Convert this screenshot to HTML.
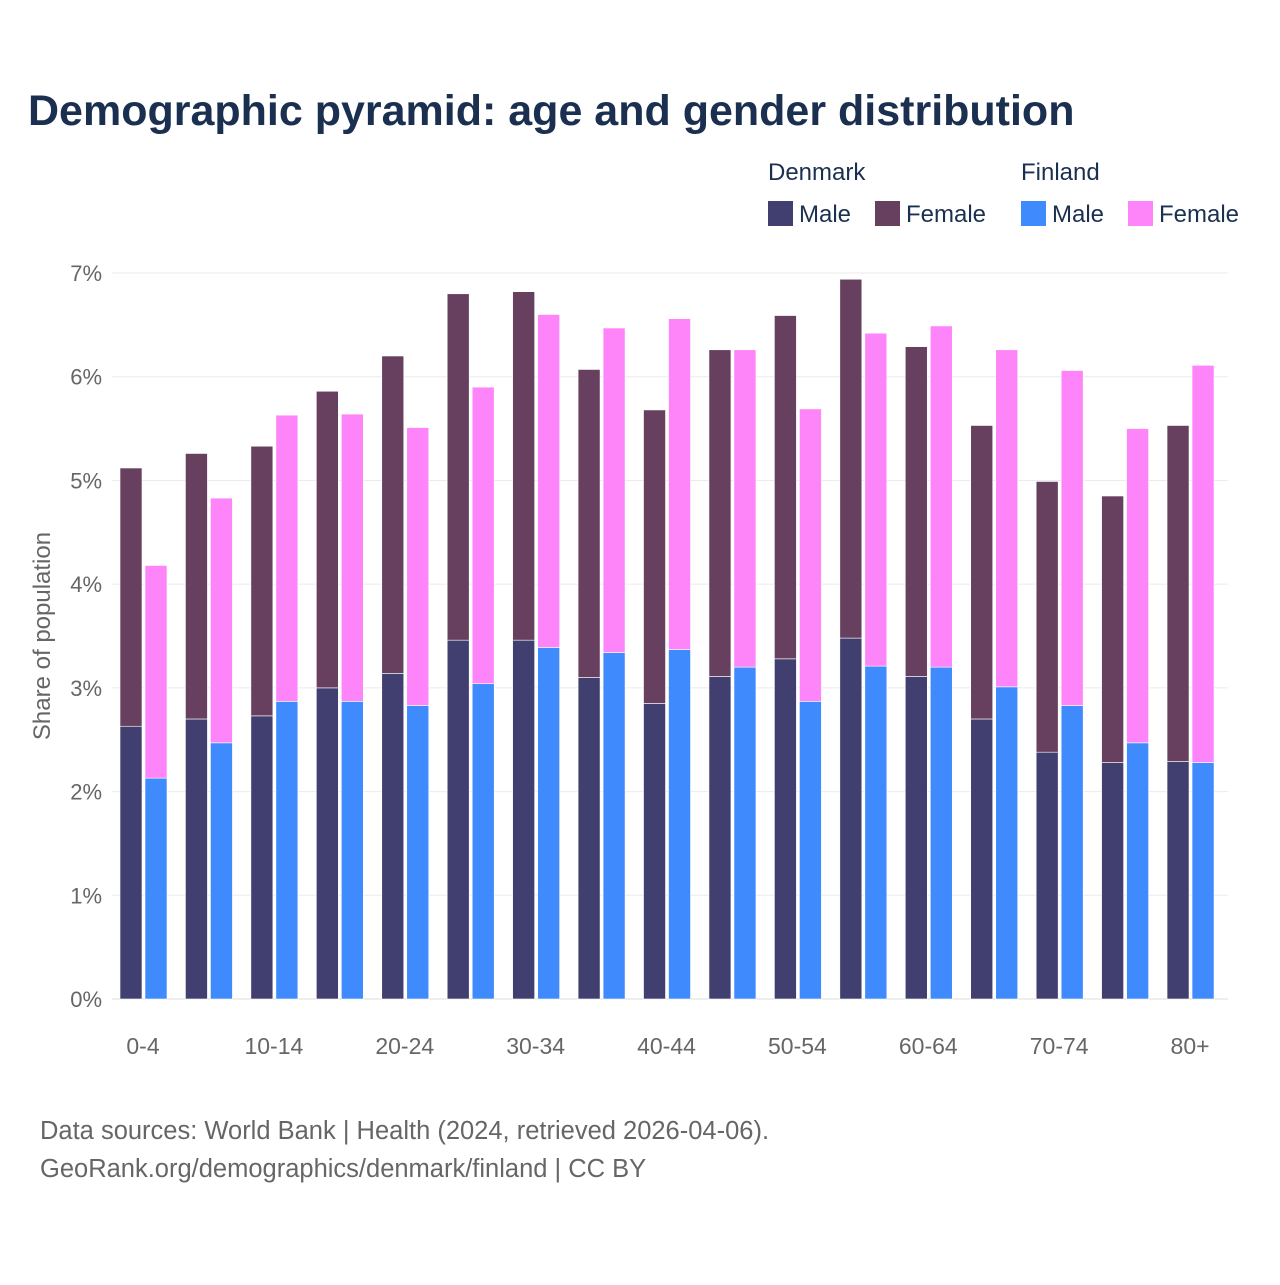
<!DOCTYPE html>
<html><head><meta charset="utf-8"><style>
body{margin:0;background:#fff;font-family:"Liberation Sans",sans-serif}
</style></head><body>
<svg width="1280" height="1280" xmlns="http://www.w3.org/2000/svg" id="svg">
<rect width="1280" height="1280" fill="#fff"/>
<text x="28" y="125" font-size="43" font-weight="bold" fill="#1b3050">Demographic pyramid: age and gender distribution</text>
<g font-size="24" fill="#1b3050">
<text x="768" y="180">Denmark</text>
<text x="1021" y="180">Finland</text>
<g><rect x="768" y="201" width="25" height="25" fill="#413f70"/><text x="799" y="222">Male</text></g>
<g><rect x="875" y="201" width="25" height="25" fill="#67405f"/><text x="906" y="222">Female</text></g>
<g><rect x="1021" y="201" width="25" height="25" fill="#3f8afd"/><text x="1052" y="222">Male</text></g>
<g><rect x="1128" y="201" width="25" height="25" fill="#fe85f9"/><text x="1159" y="222">Female</text></g>
</g>
<text transform="translate(50,636) rotate(-90)" text-anchor="middle" font-size="24" fill="#666">Share of population</text>
<g id="grid"></g><g id="bars"></g><g id="xl"></g>
<text x="40" y="1139" font-size="25.5" fill="#666">Data sources: World Bank | Health (2024, retrieved 2026-04-06).</text>
<text x="40" y="1177" font-size="25.5" fill="#666">GeoRank.org/demographics/denmark/finland | CC BY</text>
</svg>
<script>
const categories=["0-4","5-9","10-14","15-19","20-24","25-29","30-34","35-39","40-44","45-49","50-54","55-59","60-64","65-69","70-74","75-79","80+"];
const dkMale=[2.63,2.70,2.73,3.00,3.14,3.46,3.46,3.10,2.85,3.11,3.28,3.48,3.11,2.70,2.38,2.28,2.29];
const dkFemale=[2.49,2.56,2.60,2.86,3.06,3.34,3.36,2.97,2.83,3.15,3.31,3.46,3.18,2.83,2.61,2.57,3.24];
const fiMale=[2.13,2.47,2.87,2.87,2.83,3.04,3.39,3.34,3.37,3.20,2.87,3.21,3.20,3.01,2.83,2.47,2.28];
const fiFemale=[2.05,2.36,2.76,2.77,2.68,2.86,3.21,3.13,3.19,3.06,2.82,3.21,3.29,3.25,3.23,3.03,3.83];
const yTicks=[0,1,2,3,4,5,6,7];
const NS="http://www.w3.org/2000/svg";
const y=v=>999-v*103.71;
const xc=i=>143+i*65.44;
function mk(t,a,p){const e=document.createElementNS(NS,t);for(const k in a)e.setAttribute(k,a[k]);p.appendChild(e);return e;}
const grid=document.getElementById('grid');
yTicks.forEach(t=>{
 const l=mk('line',{x1:112,x2:1228,y1:y(t),y2:y(t),stroke:t===0?'#ddd':'#ebebeb','stroke-width':1},grid);
 
 
 const tx=mk('text',{x:102,y:y(t)+8,'text-anchor':'end','font-size':22,fill:'#666'},grid);
 tx.textContent=t+'%';
 
 
});
const bars=document.getElementById('bars');
function bar(x,v0,v1,c,name){
 const r=mk('rect',{x:x,y:y(v1),width:22,height:y(v0)-y(v1),fill:c,stroke:'#fff','stroke-width':0.6},bars);
 
 
}
categories.forEach((c,i)=>{
 const cx=xc(i);
 bar(cx-23,0,dkMale[i],'#413f70','bar-denmark-male-'+c);
 bar(cx-23,dkMale[i],dkMale[i]+dkFemale[i],'#67405f','bar-denmark-female-'+c);
 bar(cx+2,0,fiMale[i],'#3f8afd','bar-finland-male-'+c);
 bar(cx+2,fiMale[i],fiMale[i]+fiFemale[i],'#fe85f9','bar-finland-female-'+c);
 if(i%2===0){
  const t=mk('text',{x:cx,y:1054,'text-anchor':'middle','font-size':23,fill:'#666'},document.getElementById('xl'));
  t.textContent=c;
  
  
 }
});
</script>
</body></html>
